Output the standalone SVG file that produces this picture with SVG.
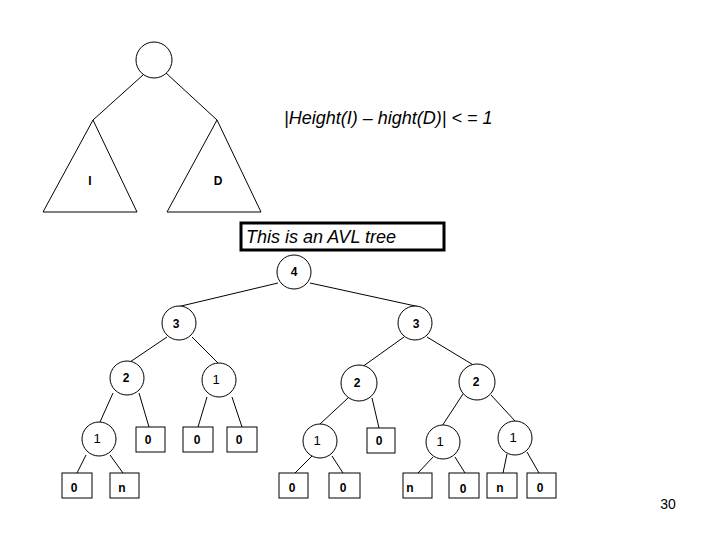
<svg xmlns="http://www.w3.org/2000/svg" width="720" height="540" viewBox="0 0 720 540">
<style>
.c{fill:#fff;stroke:#000;stroke-width:1}
.b{fill:#fff;stroke:#000;stroke-width:1}
.e{stroke:#000;stroke-width:1;fill:none}
.d{font-family:"Liberation Sans",Arial,sans-serif;font-weight:bold;font-size:12px;text-anchor:middle;fill:#000}
.o{font-weight:normal;font-size:13px}
.i{font-family:"Liberation Sans",Arial,sans-serif;font-style:italic;font-size:18px;fill:#000}
</style>
<rect width="720" height="540" fill="#fff"/>
<g id="edges">
<line class="e" x1="143" y1="75" x2="93" y2="120"/>
<line class="e" x1="166" y1="73" x2="217" y2="120"/>
<line class="e" x1="278" y1="283" x2="177" y2="307"/>
<line class="e" x1="310" y1="283" x2="420" y2="307"/>
<line class="e" x1="167" y1="337" x2="130" y2="362"/>
<line class="e" x1="192" y1="337" x2="218" y2="363"/>
<line class="e" x1="404" y1="337" x2="362" y2="367"/>
<line class="e" x1="427" y1="337" x2="475" y2="366"/>
<line class="e" x1="113" y1="393" x2="100" y2="422"/>
<line class="e" x1="139" y1="393" x2="149" y2="427"/>
<line class="e" x1="207" y1="397" x2="198" y2="427"/>
<line class="e" x1="232" y1="397" x2="242" y2="427"/>
<line class="e" x1="348" y1="398" x2="320" y2="424"/>
<line class="e" x1="372" y1="398" x2="379" y2="428"/>
<line class="e" x1="463" y1="394" x2="442" y2="426"/>
<line class="e" x1="491" y1="395" x2="515" y2="421"/>
<line class="e" x1="86" y1="455" x2="77" y2="473"/>
<line class="e" x1="110" y1="455" x2="123" y2="473"/>
<line class="e" x1="312" y1="456" x2="295" y2="473"/>
<line class="e" x1="332" y1="456" x2="343" y2="473"/>
<line class="e" x1="433" y1="457" x2="418" y2="473"/>
<line class="e" x1="455" y1="457" x2="465" y2="473"/>
<line class="e" x1="507" y1="454" x2="503" y2="473"/>
<line class="e" x1="527" y1="452" x2="539" y2="473"/>
</g>
<g id="root"><circle class="c" cx="154" cy="60" r="18"/></g>
<g id="subtreeI"><polygon class="e" points="93,120 43,212 137,212"/><text class="d" x="90" y="185" font-size="13">I</text></g>
<g id="subtreeD"><polygon class="e" points="217,120 167,212 261,212"/><text class="d" x="218" y="185" font-size="13">D</text></g>
<g id="formula"><text class="i" x="284" y="124">|Height(I) – hight(D)| &lt; = 1</text></g>
<g id="avlLabel"><rect x="241" y="223" width="203" height="27" fill="#fff" stroke="#000" stroke-width="3"/><text class="i" x="246" y="243">This is an AVL tree</text></g>
<g id="n4"><circle class="c" cx="294" cy="272" r="17"/><text class="d" x="294" y="276">4</text></g>
<g id="n3a"><circle class="c" cx="179" cy="323" r="17"/><text class="d" x="176" y="328">3</text></g>
<g id="n3b"><circle class="c" cx="415" cy="323" r="17"/><text class="d" x="416" y="328">3</text></g>
<g id="n2a"><circle class="c" cx="127" cy="378" r="17"/><text class="d" x="126" y="382">2</text></g>
<g id="n1a"><circle class="c" cx="219" cy="380" r="17"/><text class="d o" x="216" y="384">1</text></g>
<g id="n2b"><circle class="c" cx="359" cy="383" r="18"/><text class="d" x="357" y="387">2</text></g>
<g id="n2c"><circle class="c" cx="477" cy="382" r="18"/><text class="d" x="476" y="386">2</text></g>
<g id="n1b"><circle class="c" cx="99" cy="439" r="17"/><text class="d o" x="97" y="443">1</text></g>
<g id="b1"><rect class="b" x="136" y="427" width="29" height="25"/><text class="d" x="148" y="444">0</text></g>
<g id="b2"><rect class="b" x="183" y="427" width="30" height="25"/><text class="d" x="197" y="444">0</text></g>
<g id="b3"><rect class="b" x="227" y="427" width="30" height="25"/><text class="d" x="239" y="444">0</text></g>
<g id="n1c"><circle class="c" cx="320" cy="441" r="17"/><text class="d o" x="317" y="445">1</text></g>
<g id="b4"><rect class="b" x="367" y="428" width="28" height="25"/><text class="d" x="379" y="445">0</text></g>
<g id="n1d"><circle class="c" cx="443" cy="442" r="17"/><text class="d o" x="440" y="446">1</text></g>
<g id="n1e"><circle class="c" cx="515" cy="438" r="17"/><text class="d o" x="513" y="442">1</text></g>
<g id="b5"><rect class="b" x="62" y="473" width="30" height="25"/><text class="d" x="74" y="492">0</text></g>
<g id="b6"><rect class="b" x="110" y="473" width="29" height="25"/><text class="d" x="122" y="492">n</text></g>
<g id="b7"><rect class="b" x="279" y="473" width="29" height="25"/><text class="d" x="292" y="492">0</text></g>
<g id="b8"><rect class="b" x="329" y="473" width="31" height="25"/><text class="d" x="343" y="492">0</text></g>
<g id="b9"><rect class="b" x="403" y="473" width="29" height="25"/><text class="d" x="410" y="492">n</text></g>
<g id="b10"><rect class="b" x="449" y="473" width="30" height="25"/><text class="d" x="463" y="493">0</text></g>
<g id="b11"><rect class="b" x="487" y="473" width="30" height="25"/><text class="d" x="500" y="492">n</text></g>
<g id="b12"><rect class="b" x="527" y="473" width="29" height="25"/><text class="d" x="540" y="492">0</text></g>
<g id="page"><text x="668" y="509" font-family="Liberation Sans,Arial,sans-serif" font-size="14" text-anchor="middle">30</text></g>
</svg>
